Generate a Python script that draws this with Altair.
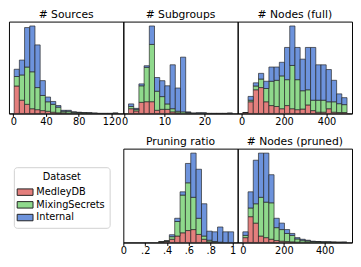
import altair as alt
import pandas as pd

datasets = ["MedleyDB", "MixingSecrets", "Internal"]
colors = ["#e47f7d", "#8fd98c", "#6d93dc"]

# ---- # Sources (bins start 1, width 6.35)
src_start, src_width = 1.0, 6.35
src_medley = [87, 42, 29, 15, 12, 9, 7, 4, 2, 2, 1, 1, 1, 0.5, 0.5, 0, 0, 0, 0, 0.5]
src_mixing = [30, 80, 118, 117, 70, 48, 30, 25, 18, 5, 6, 3, 2, 1.5, 1, 0.5, 0, 0, 0, 0]
src_internal = [23, 47, 125, 145, 135, 47, 15, 9, 5, 3, 3, 1, 1, 0.5, 0.5, 0.5, 0, 0, 0, 0]

# ---- # Subgroups (bins start 1, width 1.3)
sub_start, sub_width = 1.0, 1.3
sub_medley = [15, 8, 35, 37, 37, 10, 13, 13, 5, 2, 0, 1, 0, 0, 0, 0, 0, 0, 0, 0]
sub_mixing = [7, 5, 52, 108, 180, 60, 40, 17, 10, 5, 5, 2, 0.5, 1, 1, 0, 0, 0, 0, 0.5]
sub_internal = [8, 3, 6, 5, 58, 43, 50, 57, 138, 73, 172, 2, 0.5, 1, 1, 0, 0, 0, 0, 0.5]

# ---- # Nodes (full) (bins start 6.5, width 24.5)
full_start, full_width = 6.5, 24.5
full_medley = [3, 37, 75, 82, 37, 25, 22, 15, 25, 15, 12, 14, 27, 9, 4, 4, 15, 4, 3, 3]
full_mixing = [0, 5, 12, 27, 42, 77, 83, 104, 82, 137, 95, 58, 48, 33, 38, 38, 22, 33, 28, 25]
full_internal = [0, 12, 10, 18, 23, 45, 42, 43, 102, 125, 102, 100, 134, 167, 112, 112, 102, 68, 31, 22]

# ---- Pruning ratio (bins start 0.323, width 0.049)
pr_start, pr_width = 0.323, 0.049
pr_medley = [1, 3, 10, 20, 30, 37, 40, 25, 10, 2, 1, 0, 0, 0]
pr_mixing = [1, 2, 8, 45, 117, 148, 100, 50, 10, 5, 2, 1, 0, 0]
pr_internal = [0, 0, 6, 10, 10, 60, 137, 152, 100, 28, 30, 47, 33, 33]

# ---- # Nodes (pruned) (bins start 0, width 25.4)
pn_start, pn_width = 0.0, 25.4
pn_medley = [15, 80, 60, 20, 15, 10, 6, 4, 3, 2, 1, 1, 1, 0.5, 0.5, 0, 0, 0, 0, 0]
pn_mixing = [7, 27, 60, 120, 110, 113, 40, 36, 25, 20, 10, 6, 4, 2.5, 2, 1.5, 1.5, 1, 0.5, 0.5]
pn_internal = [11, 50, 135, 137, 152, 87, 29, 20, 12, 6, 4, 3, 2, 1, 0.5, 0.5, 0.5, 0, 0, 0.5]

W = 117
H_TOP = 94
H_BOT = 96


def panel(title, start, width, series, domain, ticks, h, label_expr=None):
    rows = []
    for k, (ds, vals) in enumerate(zip(datasets, series)):
        for i, v in enumerate(vals):
            rows.append({"ds": ds, "ord": k, "x0": start + i * width,
                         "x1": start + (i + 1) * width, "n": v})
    df = pd.DataFrame(rows)
    totals = [sum(s[i] for s in series) for i in range(len(series[0]))]
    ymax = max(totals) * 1.05
    axis_kw = dict(values=ticks, title=None, labelFlush=False, labelOverlap=False,
                   tickSize=3, tickColor="black", domainColor="black",
                   labelColor="black", labelFontSize=10, labelPadding=0.5,
                   grid=False, labelFont="DejaVu Sans")
    if label_expr:
        axis_kw["labelExpr"] = label_expr
    return (
        alt.Chart(df)
        .transform_stack(stack="n", groupby=["x0"], as_=["y0", "y1"],
                         sort=[alt.SortField("ord", order="ascending")])
        .mark_bar(stroke="#222222", strokeWidth=0.8, strokeOpacity=0.85)
        .encode(
            x=alt.X("x0:Q", scale=alt.Scale(domain=domain, nice=False, zero=False),
                    axis=alt.Axis(**axis_kw)),
            x2="x1:Q",
            y=alt.Y("y0:Q", scale=alt.Scale(domain=[0, ymax], nice=False), axis=None),
            y2="y1:Q",
            color=alt.Color(
                "ds:N",
                scale=alt.Scale(domain=datasets, range=colors),
                legend=alt.Legend(
                    title="Dataset", orient="none", legendX=5, legendY=149,
                    symbolType="M-1.35,-0.55H1.35V0.55H-1.35Z", symbolSize=144,
                    symbolStrokeColor="#222222", symbolStrokeWidth=1,
                    symbolOpacity=1, labelFontSize=10, titleFontSize=10,
                    labelFont="DejaVu Sans", titleFont="DejaVu Sans",
                    titleFontWeight="normal", titleAnchor="middle",
                    labelColor="black", titleColor="black",
                    rowPadding=1, labelOffset=5, padding=5, titlePadding=4,
                    strokeColor="#d0d0d0", fillColor="white", cornerRadius=3,
                ),
            ),
        )
        .properties(width=W, height=h, title=title)
    )


p1 = panel("# Sources", src_start, src_width, [src_medley, src_mixing, src_internal],
           [-5.35, 134.35], [0, 40, 80, 120], H_TOP)
p2 = panel("# Subgroups", sub_start, sub_width, [sub_medley, sub_mixing, sub_internal],
           [-0.3, 28.3], [0, 10, 20], H_TOP)
p3 = panel("# Nodes (full)", full_start, full_width, [full_medley, full_mixing, full_internal],
           [-18, 520], [0, 200, 400], H_TOP)
p4 = panel("Pruning ratio", pr_start, pr_width, [pr_medley, pr_mixing, pr_internal],
           [0, 1.046], [0, 0.2, 0.4, 0.6, 0.8, 1.0], H_BOT,
           label_expr="datum.value == 0 ? '0' : datum.value == 1 ? '1' : replace(format(datum.value, '.1f'), '0.', '.')")
p5 = panel("# Nodes (pruned)", pn_start, pn_width, [pn_medley, pn_mixing, pn_internal],
           [-25.4, 533.4], [0, 200, 400], H_BOT)

spacer = (
    alt.Chart(pd.DataFrame({"a": [0]}))
    .mark_point(opacity=0)
    .encode(x=alt.X("a:Q", axis=None), y=alt.Y("a:Q", axis=None))
    .properties(width=W, height=H_BOT, view=alt.ViewBackground(strokeOpacity=0))
)

top = alt.hconcat(p1, p2, p3, spacing=0, bounds="flush")
bottom = alt.hconcat(spacer, p4, p5, spacing=0, bounds="flush")

chart = (
    alt.vconcat(top, bottom, spacing=8)
    .properties(padding={"left": 0, "top": -3, "right": 0, "bottom": 0})
    .configure_view(stroke="black", strokeWidth=1)
    .configure_title(font="DejaVu Sans", fontSize=11, fontWeight="normal",
                     color="black", offset=2)
    .configure_concat(spacing=0)
)

chart.save("out.html", embed_options={"renderer": "svg", "actions": False})
